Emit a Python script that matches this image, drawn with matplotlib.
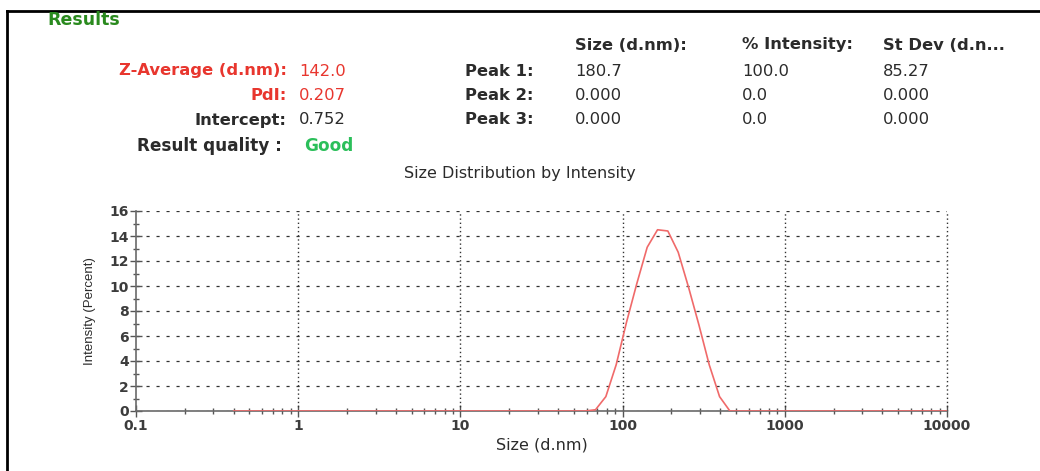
import matplotlib.pyplot as plt
from matplotlib.ticker import LogLocator, MultipleLocator, NullFormatter, FixedFormatter, FixedLocator
from matplotlib.lines import Line2D

# size classes (d.nm) and intensity (%)
size_nm = [0.4, 58.77, 68.06, 78.82, 91.28, 105.7, 122.4, 141.8, 164.2,
           190.1, 220.2, 255.0, 295.3, 342.0, 396.1, 458.7, 531.2, 10000]
intensity = [0.0, 0.0, 0.1, 1.15, 3.7, 7.1, 10.2, 13.1, 14.5,
             14.4, 12.7, 9.9, 6.9, 3.7, 1.15, 0.0, 0.0, 0.0]

x_ticks = [0.1, 1, 10, 100, 1000, 10000]
x_labels = ['0.1', '1', '10', '100', '1000', '10000']

left_labels = ['Z-Average (d.nm):', 'PdI:', 'Intercept:']
left_values = ['142.0', '0.207', '0.752']
peak_names = ['Peak 1:', 'Peak 2:', 'Peak 3:']
col_headers = ['Size (d.nm):', '% Intensity:', 'St Dev (d.n...']
peak_size = ['180.7', '0.000', '0.000']
peak_int = ['100.0', '0.0', '0.0']
peak_sd = ['85.27', '0.000', '0.000']

plt.rcParams['font.family'] = ['DejaVu Sans']

W, H = 1040, 471
fig = plt.figure(figsize=(10.4, 4.71), dpi=100)

def px(x, y):
    return x / W, 1 - y / H

# frame border (left and top)
fig.add_artist(Line2D([px(7, 0)[0], px(7, 0)[0]], [0, px(0, 11)[1]], color='black', lw=2))
fig.add_artist(Line2D([px(7, 0)[0], 1], [px(0, 11)[1], px(0, 11)[1]], color='black', lw=2))

red = '#e8362e'
dark = '#2b2b2b'
fs = 11.8

fig.text(*px(47, 20), 'Results', color='#2a8a1e', fontsize=12.5, fontweight='bold', va='center')

rows_y = [71, 96, 120]
label_colors = [red, red, dark]
for lab, val, col, yy in zip(left_labels, left_values, label_colors, rows_y):
    fig.text(*px(287, yy), lab, color=col, fontsize=fs, fontweight='bold', ha='right', va='center')
    fig.text(*px(299, yy), val, color=col, fontsize=fs, ha='left', va='center')
fig.text(*px(282, 146), 'Result quality :', color=dark, fontsize=12.2, fontweight='bold', ha='right', va='center')
fig.text(*px(304, 146), 'Good', color='#2bbf5a', fontsize=12.2, fontweight='bold', ha='left', va='center')

col_x = [575, 742, 883]
for hdr, cx in zip(col_headers, col_x):
    fig.text(*px(cx, 45), hdr, color=dark, fontsize=fs, fontweight='bold', va='center')
for i, yy in enumerate(rows_y):
    fig.text(*px(465, yy), peak_names[i], color=dark, fontsize=fs, fontweight='bold', va='center')
    fig.text(*px(col_x[0], yy), peak_size[i], color=dark, fontsize=fs, va='center')
    fig.text(*px(col_x[1], yy), peak_int[i], color=dark, fontsize=fs, va='center')
    fig.text(*px(col_x[2], yy), peak_sd[i], color=dark, fontsize=fs, va='center')

fig.text(*px(520, 174), 'Size Distribution by Intensity', color=dark, fontsize=11.5, ha='center', va='center')

ax = fig.add_axes([136 / W, 1 - 411 / H, (947 - 136) / W, (411 - 211) / H])
ax.plot(size_nm, intensity, color='#f06a6a', lw=1.2, zorder=3)
ax.set_xscale('log')
ax.set_xlim(0.1, 10000)
ax.set_ylim(0, 16)

ax.xaxis.set_major_locator(FixedLocator(x_ticks))
ax.xaxis.set_major_formatter(FixedFormatter(x_labels))
ax.xaxis.set_minor_locator(LogLocator(base=10, subs=range(2, 10)))
ax.xaxis.set_minor_formatter(NullFormatter())
ax.yaxis.set_major_locator(MultipleLocator(2))
ax.yaxis.set_minor_locator(MultipleLocator(1))

for s in ['top', 'right']:
    ax.spines[s].set_visible(False)
for s in ['left', 'bottom']:
    ax.spines[s].set_color('#6a6a6a')
    ax.spines[s].set_linewidth(1.2)

ax.tick_params(which='major', direction='inout', length=8, width=1, color='#555555',
               labelsize=10, labelcolor='#3c3c3c')
ax.tick_params(which='minor', direction='inout', length=5, width=1, color='#555555')
for lbl in ax.get_xticklabels() + ax.get_yticklabels():
    lbl.set_fontweight('bold')
ax.tick_params(axis='x', pad=2)
ax.tick_params(axis='y', pad=1)

ax.grid(axis='y', which='major', color='#333333', linestyle=(0, (2.5, 5.5)), lw=0.9)
for xv in x_ticks[1:]:
    ax.axvline(xv, color='#333333', linestyle=(0, (1, 2)), lw=1, zorder=1, clip_on=False)
ax.set_axisbelow(True)

ax.set_xlabel('Size (d.nm)', fontsize=11.5, color=dark, labelpad=3)
ax.set_ylabel('Intensity (Percent)', fontsize=9.5, color=dark, labelpad=10,
              family=['Liberation Sans', 'DejaVu Sans'])

fig.savefig('out.png', dpi=100)
